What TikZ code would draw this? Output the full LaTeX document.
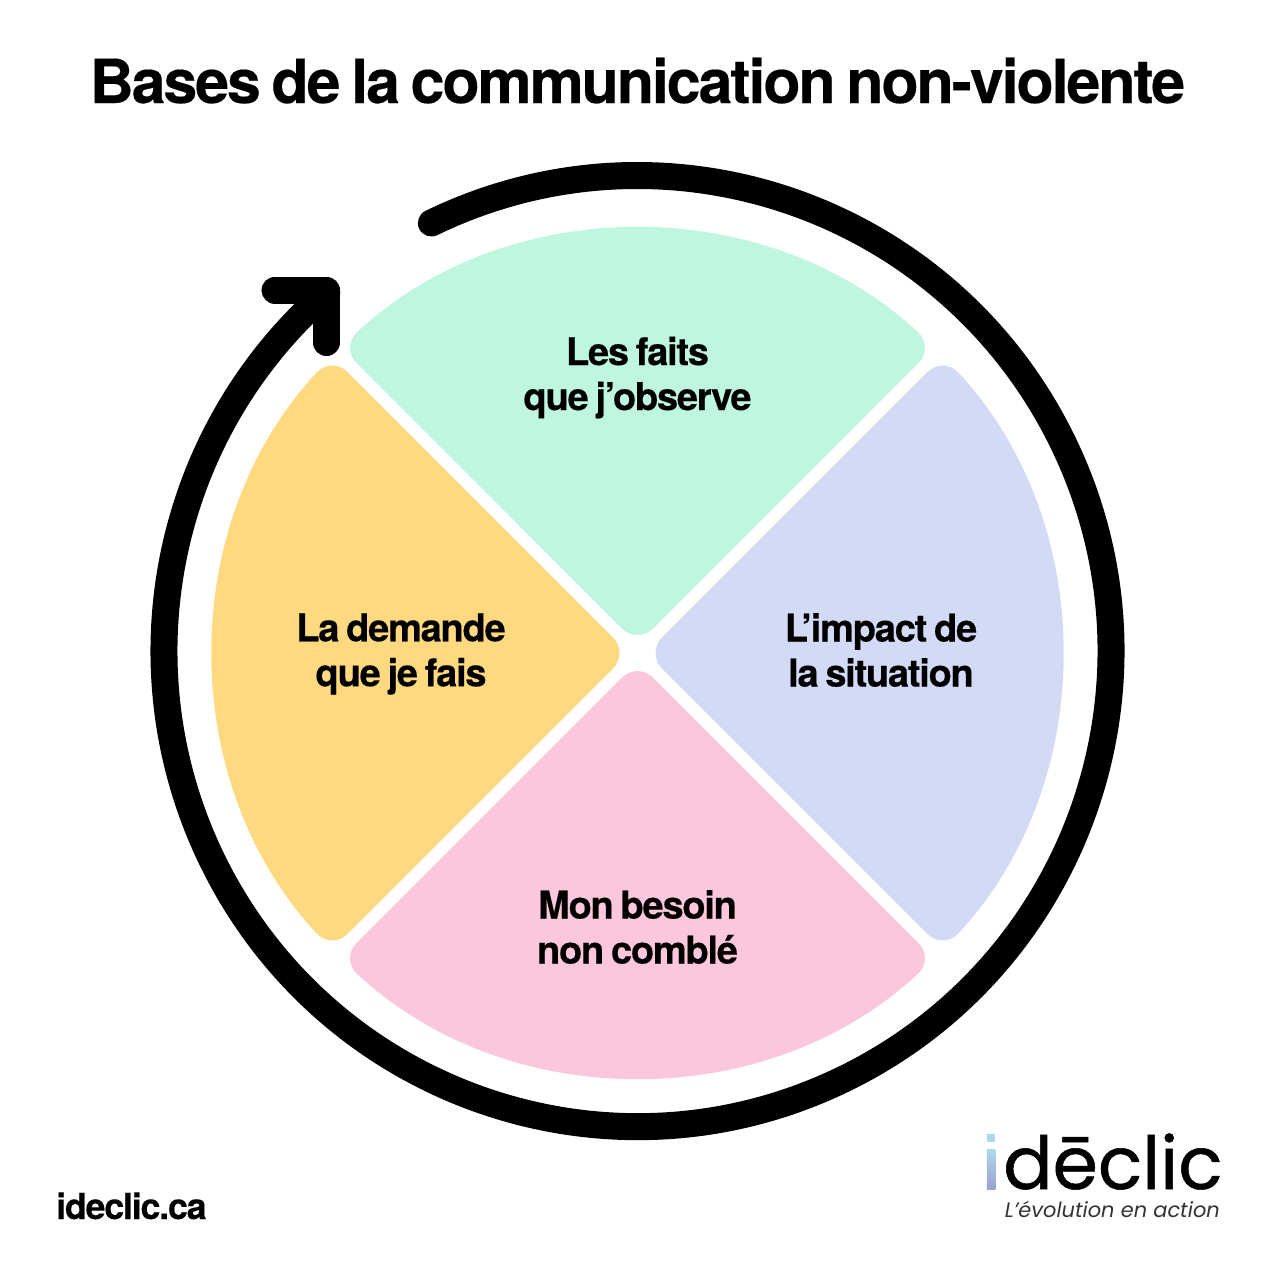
\documentclass[tikz,border=0pt]{standalone}
\usepackage{fontspec}
\setmainfont{TeX Gyre Heros}
\newfontfamily\heavyfont[FakeBold=0.3,LetterSpace=-3.4,WordSpace=0.72]{TeX Gyre Heros Bold}
\newfontfamily\logofont[FakeBold=0.7]{Poppins}
\newfontfamily\tagfont{Poppins}
\usepackage{tikz}
\usetikzlibrary{calc}
\definecolor{faitsgreen}{HTML}{BFF6DF}
\definecolor{impactblue}{HTML}{D3DAF6}
\definecolor{besoinpink}{HTML}{FCC6DC}
\definecolor{demandeorange}{HTML}{FFD980}
\definecolor{logotop}{HTML}{ADD8EC}
\definecolor{logobottom}{HTML}{9DA0D0}

\begin{document}
\begin{tikzpicture}[wedge/.style={rounded corners=2.2mm}, ring/.style={line width=2.7mm, draw=black, line cap=round, line join=round}, lab/.style={align=center, font=\fontsize{10.85pt}{12.8pt}\heavyfont, inner sep=0pt}
]
  \useasboundingbox (-6.375,-6.22) rectangle (6.375,6.53);
  \fill[white] (-6.375,-6.22) rectangle (6.375,6.53);
  % quadrants
  \fill[wedge, fill=faitsgreen] (0,0.09) -- (2.967,3.057) arc (47.02:132.98:4.352) -- cycle;
  \fill[wedge, fill=impactblue] (0.09,0) -- (3.057,-2.967) arc (-42.98:42.98:4.352) -- cycle;
  \fill[wedge, fill=besoinpink] (0,-0.09) -- (-2.967,-3.057) arc (227.02:312.98:4.352) -- cycle;
  \fill[wedge, fill=demandeorange] (-0.09,0) -- (-3.057,2.967) arc (137.02:222.98:4.352) -- cycle;
  \node[lab] (faits) at (0,2.755) {Les faits\\que j’observe};
  \node[lab] (impact) at (2.435,0.03) {L’impact de\\la situation};
  \node[lab] (besoin) at (0,-2.74) {Mon besoin\\non comblé};
  \node[lab] (demande) at (-2.365,-0.01) {La demande\\que je fais};
  % cycle arrow
  \coordinate (ringstart) at (-2.061,4.30);
  \coordinate (headleft) at (-3.625,3.63);
  \coordinate (headtip) at (-3.11,3.63);
  \coordinate (headdown) at (-3.11,3.105);
  \draw[ring] (ringstart) arc (115.8:-229:4.735 and 4.755);
  \draw[ring] (headleft) -- (headtip) -- (headdown);
  % title and footer
  \node[anchor=base, inner sep=0pt, font=\fontsize{17.32pt}{20pt}\heavyfont] (title) at (0,5.5) {Bases de la communication non-violente};
  \node[anchor=base west, inner sep=0pt, font=\fontsize{10.2pt}{12pt}\heavyfont] (site) at (-5.82,-5.66) {ideclic.ca};
  \shade[top color=logotop, bottom color=logobottom] (3.495,-4.96) rectangle (3.58,-5.36);
  \fill[logotop] (3.495,-4.81) rectangle (3.58,-4.89);
  \node[anchor=base west, inner sep=0pt, text depth=0pt, font=\fontsize{20.8pt}{24pt}\logofont] (logo) at (3.65,-5.36) {dēclic};
  \node[anchor=base east, inner sep=0pt, text=black!80, font=\fontsize{5.95pt}{8pt}\tagfont\itshape] (tagline) at (5.83,-5.64) {L’évolution en action};
\end{tikzpicture}
\end{document}
